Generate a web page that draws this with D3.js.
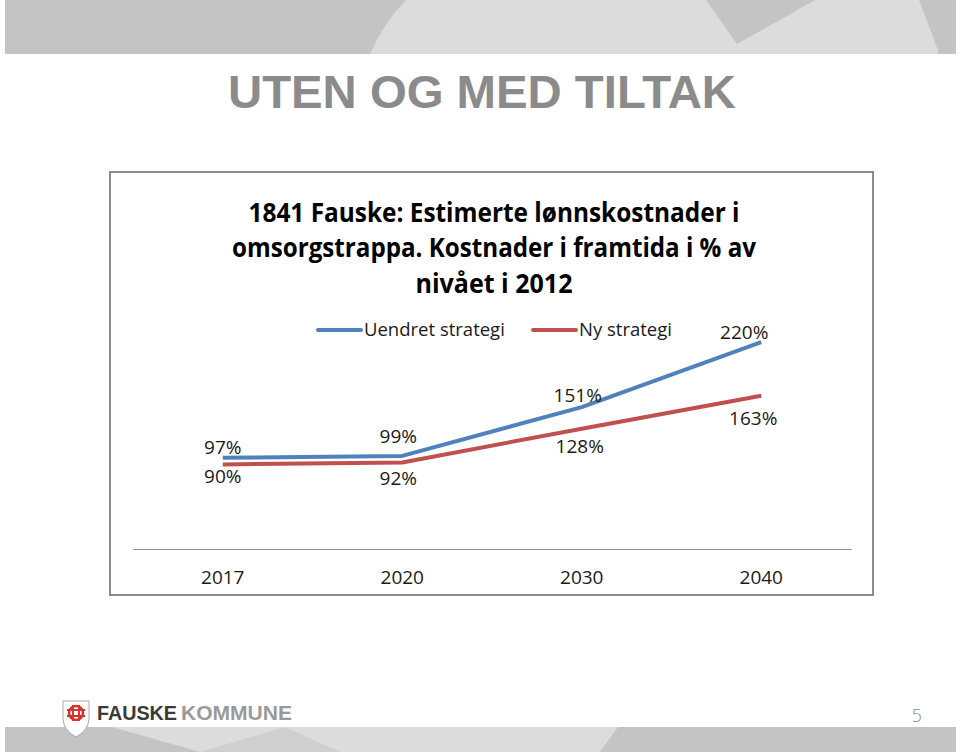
<!DOCTYPE html>
<html>
<head>
<meta charset="utf-8">
<script src="https://cdn.jsdelivr.net/npm/d3@7"></script>
<style>
  html, body { margin: 0; padding: 0; background: #fff; }
  svg { display: block; }
</style>
</head>
<body>
<svg id="slide" width="960" height="752"></svg>
<script>
// ---- data ----
const categories = ["2017", "2020", "2030", "2040"];
const seriesNames = ["Uendret strategi", "Ny strategi"];
const uendretValues = [97, 99, 151, 220];
const nyValues = [90, 92, 128, 163];
const uendretLabels = ["97%", "99%", "151%", "220%"];
const nyLabels = ["90%", "92%", "128%", "163%"];
const chartTitleLines = ["1841 Fauske: Estimerte lønnskostnader i", "omsorgstrappa. Kostnader i framtida i % av", "nivået i 2012"];
const slideTitle = "UTEN OG MED TILTAK";

// ---- layout ----
const svg = d3.select("#slide");
const FONT = "'Open Sans', 'Noto Sans', 'DejaVu Sans', sans-serif";
const COLORS = ["#4f81bd", "#c0504d"];

// header band
const header = svg.append("g");
header.append("rect").attr("x", 5).attr("y", 0).attr("width", 951).attr("height", 54).attr("fill", "#c4c4c4");
header.append("path")
  .attr("d", "M370,54 Q384,22 406,0 L706,0 L737,44 L815,0 L919,0 L938,50 L938,54 Z")
  .attr("fill", "#dcdcdc");

// footer band
const footer = svg.append("g");
footer.append("rect").attr("x", 5).attr("y", 727).attr("width", 951).attr("height", 25).attr("fill", "#c4c4c4");
footer.append("path").attr("d", "M112,727 L618,727 L600,752 L300,752 L200,752 Z").attr("fill", "#dcdcdc");
footer.append("path").attr("d", "M200,752 L285,727 L340,752 Z").attr("fill", "#cfcfcf");

// slide title
svg.append("text")
  .attr("x", 482).attr("y", 108)
  .attr("text-anchor", "middle")
  .attr("font-family", "'Liberation Sans Narrow', 'Liberation Sans', Arial, sans-serif")
  .attr("font-weight", "bold")
  .attr("font-size", 47)
  .attr("textLength", 508)
  .attr("lengthAdjust", "spacingAndGlyphs")
  .attr("fill", "#8b8b8b")
  .text(slideTitle);

// chart frame
svg.append("rect")
  .attr("x", 110).attr("y", 172).attr("width", 763).attr("height", 423)
  .attr("fill", "#fff").attr("stroke", "#8c8c8c").attr("stroke-width", 2);

// chart title
const titleWidths = [491, 524, 157];
const titleBaselines = [222, 257, 293];
svg.append("g").selectAll("text").data(chartTitleLines).join("text")
  .attr("x", 494)
  .attr("y", (d, i) => titleBaselines[i])
  .attr("text-anchor", "middle")
  .attr("font-family", FONT)
  .attr("font-weight", "bold")
  .attr("font-size", 26)
  .attr("textLength", (d, i) => titleWidths[i])
  .attr("lengthAdjust", "spacingAndGlyphs")
  .attr("fill", "#000")
  .text(d => d);

// scales
const x = d3.scaleBand().domain(categories).range([133, 851]).padding(0);
const cx = d => x(d) + x.bandwidth() / 2;
const y = d3.scaleLinear().domain([0, 250]).range([549, 314]);

// axis
const axis = d3.axisBottom(x).tickSizeInner(0).tickSizeOuter(0).tickPadding(22);
const gx = svg.append("g").attr("transform", "translate(0,549)").call(axis);
gx.select(".domain").attr("stroke", "#8c8c8c").attr("stroke-width", 1.2);
gx.selectAll("text").attr("font-family", FONT).attr("font-size", 19).attr("fill", "#1a1a1a");

// lines
const series = [
  { name: seriesNames[0], values: uendretValues, labels: uendretLabels },
  { name: seriesNames[1], values: nyValues, labels: nyLabels }
];
const line = d3.line().x(d => cx(d.cat)).y(d => y(d.v));
series.forEach((s, si) => {
  const pts = categories.map((c, i) => ({ cat: c, v: s.values[i] }));
  svg.append("path")
    .datum(pts)
    .attr("d", line)
    .attr("fill", "none")
    .attr("stroke", COLORS[si])
    .attr("stroke-width", 4)
    .attr("stroke-linejoin", "round")
    .attr("stroke-linecap", "butt");
});

// data labels (Excel-like placement: first series above, second below)
const labelNudge = [
  [[0, -4], [-4, -13], [-4, -5], [-17, -3]],
  [[0, 19], [-4, 22], [-2, 24], [-8, 29]]
];
series.forEach((s, si) => {
  svg.append("g").selectAll("text").data(s.values).join("text")
    .attr("x", (d, i) => cx(categories[i]) + labelNudge[si][i][0])
    .attr("y", (d, i) => y(d) + labelNudge[si][i][1])
    .attr("text-anchor", "middle")
    .attr("font-family", FONT)
    .attr("font-size", 19)
    .attr("fill", "#1a1a1a")
    .text((d, i) => s.labels[i]);
});

// legend
const legendX = [318, 533];
const legend = svg.append("g");
series.forEach((s, si) => {
  legend.append("line")
    .attr("x1", legendX[si]).attr("x2", legendX[si] + 43)
    .attr("y1", 330).attr("y2", 330)
    .attr("stroke", COLORS[si]).attr("stroke-width", 4).attr("stroke-linecap", "round");
  legend.append("text")
    .attr("x", legendX[si] + 46).attr("y", 336)
    .attr("font-family", FONT).attr("font-size", 18.5).attr("fill", "#1a1a1a")
    .text(s.name);
});

// footer logo
const logo = svg.append("g");
logo.append("path")
  .attr("d", "M63,701 L89,701 L89,718 Q89,730 76,737 Q63,730 63,718 Z")
  .attr("fill", "#fff").attr("stroke", "#aaa").attr("stroke-width", 1);
logo.append("circle").attr("cx", 76).attr("cy", 713).attr("r", 7).attr("fill", "none").attr("stroke", "#d9342b").attr("stroke-width", 2.5);
logo.append("path").attr("d", "M67,710 L85,710 M67,716 L85,716 M73,705 L73,721 M79,705 L79,721")
  .attr("stroke", "#d9342b").attr("stroke-width", 2);
svg.append("text")
  .attr("x", 97).attr("y", 720)
  .attr("font-family", "'Liberation Sans', Arial, sans-serif")
  .attr("font-weight", "bold").attr("font-size", 21)
  .attr("textLength", 80).attr("lengthAdjust", "spacingAndGlyphs")
  .attr("fill", "#3a3a3a").text("FAUSKE");
svg.append("text")
  .attr("x", 181).attr("y", 720)
  .attr("font-family", "'Liberation Sans', Arial, sans-serif")
  .attr("font-weight", "bold").attr("font-size", 21)
  .attr("textLength", 111).attr("lengthAdjust", "spacingAndGlyphs")
  .attr("fill", "#9a9a9a").text("KOMMUNE");

// page number
svg.append("text")
  .attr("x", 917).attr("y", 722)
  .attr("text-anchor", "middle")
  .attr("font-family", "'DejaVu Sans', sans-serif")
  .attr("font-weight", 300)
  .attr("font-size", 18)
  .attr("fill", "#8a8a8a").text("5");
</script>
</body>
</html>
